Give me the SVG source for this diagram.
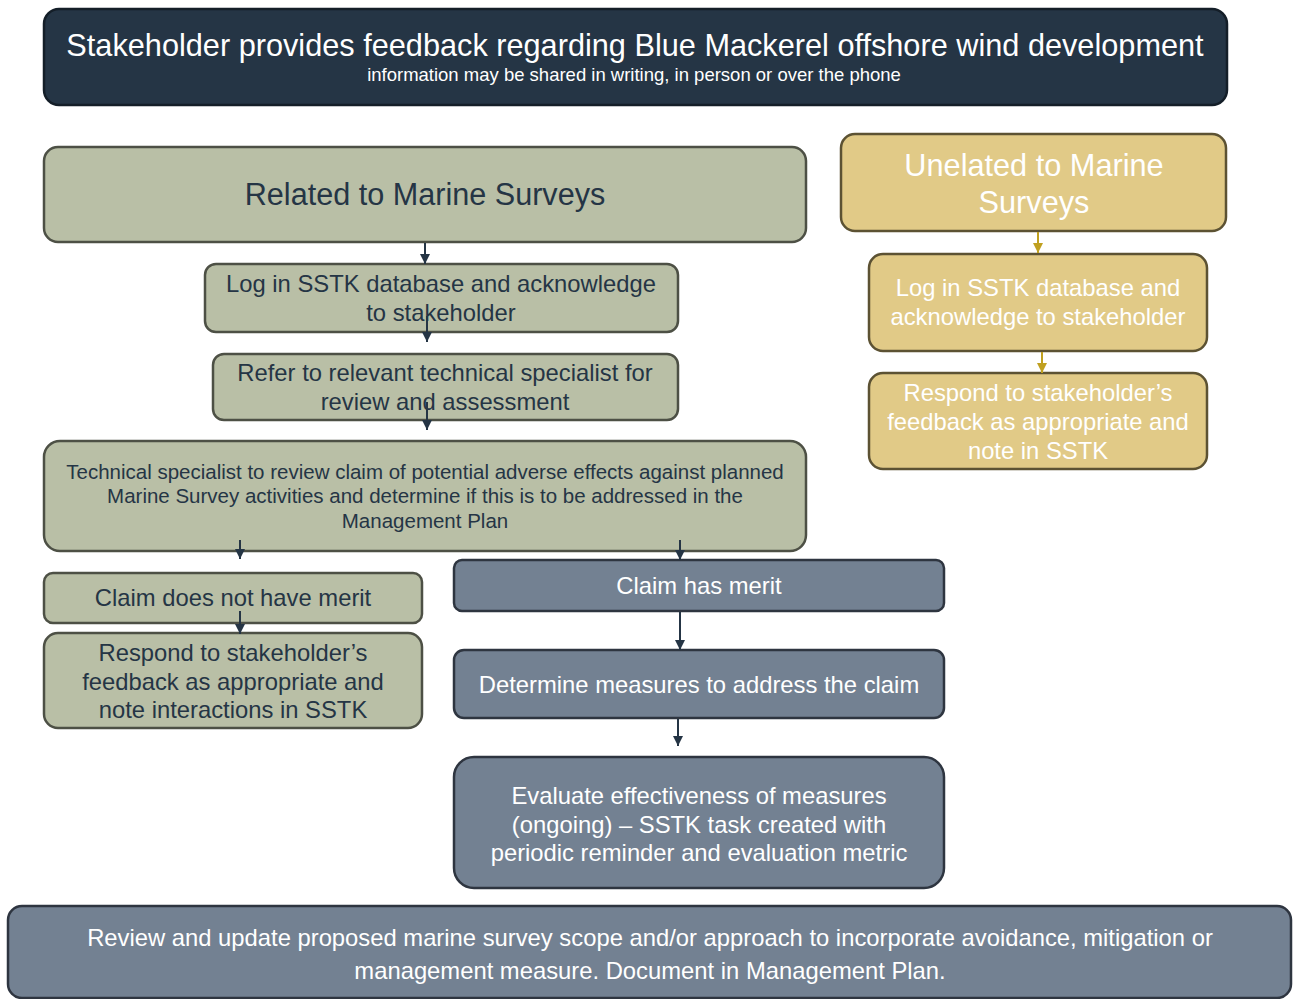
<svg xmlns="http://www.w3.org/2000/svg" width="1293" height="999" viewBox="0 0 1293 999">
<defs>
<style>
text{font-family:"Liberation Sans",Arial,sans-serif;text-anchor:middle}
.navy{fill:#253545;stroke:#141e28;stroke-width:2.5}
.sage{fill:#b9bfa6;stroke:#4d5045;stroke-width:2.5}
.gold{fill:#e1ca87;stroke:#5c5233;stroke-width:2.5}
.slate{fill:#738192;stroke:#2e3540;stroke-width:2.5}
.tw{fill:#ffffff}
.td{fill:#253545}
.m{font-size:23.8px}
.c{stroke:#253545;stroke-width:2;fill:none;marker-end:url(#ah)}
.cg{stroke:#c0a020;stroke-width:2;fill:none;marker-end:url(#ahg)}
</style>
<marker id="ah" viewBox="0 0 10 10" refX="10" refY="5" markerWidth="5" markerHeight="5" orient="auto" markerUnits="strokeWidth"><path d="M0,0 L10,5 L0,10 z" fill="#253545"/></marker>
<marker id="ahg" viewBox="0 0 10 10" refX="10" refY="5" markerWidth="5" markerHeight="5" orient="auto" markerUnits="strokeWidth"><path d="M0,0 L10,5 L0,10 z" fill="#c0a020"/></marker>
</defs>
<rect width="1293" height="999" fill="#ffffff"/>

<g id="title">
<rect class="navy" x="44" y="9" width="1183" height="96" rx="15"/>
<text class="tw" x="635" y="56" font-size="30.7">Stakeholder provides feedback regarding Blue Mackerel offshore wind development</text>
<text class="tw" x="634" y="81" font-size="18.5">information may be shared in writing,  in person or over the phone</text>
</g>

<g id="related">
<rect class="sage" x="44" y="147" width="762" height="95" rx="14"/>
<text class="td" x="425" y="205" font-size="30.6">Related to Marine Surveys</text>
</g>

<g id="unrelated">
<rect class="gold" x="841" y="134" width="385" height="97" rx="14"/>
<text class="tw" x="1034" y="176" font-size="30.7">Unelated to Marine</text>
<text class="tw" x="1034" y="213" font-size="30.7">Surveys</text>
</g>

<g id="log-gold">
<rect class="gold" x="869" y="254" width="338" height="97" rx="14"/>
<text class="tw m" x="1038" y="296">Log in SSTK database and</text>
<text class="tw m" x="1038" y="325">acknowledge to stakeholder</text>
</g>

<g id="respond-gold">
<rect class="gold" x="869" y="373" width="338" height="96" rx="14"/>
<text class="tw m" x="1038" y="401">Respond to stakeholder’s</text>
<text class="tw m" x="1038" y="430">feedback as appropriate and</text>
<text class="tw m" x="1038" y="459">note in SSTK</text>
</g>

<g id="log-sage">
<rect class="sage" x="205" y="264" width="473" height="68" rx="11"/>
<text class="td m" x="441" y="292">Log in SSTK database and acknowledge</text>
<text class="td m" x="441" y="321">to stakeholder</text>
</g>

<g id="refer">
<rect class="sage" x="213" y="354" width="465" height="66" rx="11"/>
<text class="td m" x="445" y="381">Refer to relevant technical specialist for</text>
<text class="td m" x="445" y="410">review and assessment</text>
</g>

<g id="technical">
<rect class="sage" x="44" y="441" width="762" height="110" rx="16"/>
<text class="td" x="425" y="479" font-size="20.5">Technical specialist to review claim of potential adverse effects against planned</text>
<text class="td" x="425" y="503" font-size="20.5">Marine Survey activities and determine if this is to be addressed in the</text>
<text class="td" x="425" y="528" font-size="20.5">Management Plan</text>
</g>

<g id="no-merit">
<rect class="sage" x="44" y="573" width="378" height="50" rx="9"/>
<text class="td m" x="233" y="606">Claim does not have merit</text>
</g>

<g id="respond-sage">
<rect class="sage" x="44" y="633" width="378" height="95" rx="14"/>
<text class="td m" x="233" y="661">Respond to stakeholder’s</text>
<text class="td m" x="233" y="690">feedback as appropriate and</text>
<text class="td m" x="233" y="718">note interactions in SSTK</text>
</g>

<g id="has-merit">
<rect class="slate" x="454" y="560" width="490" height="51" rx="8"/>
<text class="tw m" x="699" y="594">Claim has merit</text>
</g>

<g id="determine">
<rect class="slate" x="454" y="650" width="490" height="68" rx="10"/>
<text class="tw m" x="699" y="693">Determine measures to address the claim</text>
</g>

<g id="evaluate">
<rect class="slate" x="454" y="757" width="490" height="131" rx="20"/>
<text class="tw m" x="699" y="804">Evaluate effectiveness of measures</text>
<text class="tw m" x="699" y="833">(ongoing) – SSTK task created with</text>
<text class="tw m" x="699" y="861">periodic reminder and evaluation metric</text>
</g>

<g id="review">
<rect class="slate" x="8" y="906" width="1283" height="92" rx="14"/>
<text class="tw m" x="650" y="946">Review and update proposed marine survey scope and/or approach to incorporate avoidance, mitigation or</text>
<text class="tw m" x="650" y="979">management measure. Document in Management Plan.</text>
</g>

<g id="connectors">
<line class="c" x1="425" y1="243" x2="425" y2="264"/>
<line class="c" x1="427" y1="316" x2="427" y2="342"/>
<line class="c" x1="427" y1="402" x2="427" y2="430"/>
<line class="cg" x1="1038" y1="232" x2="1038" y2="253"/>
<line class="cg" x1="1042" y1="352" x2="1042" y2="373"/>
<line class="c" x1="240" y1="540" x2="240" y2="559"/>
<line class="c" x1="680" y1="540" x2="680" y2="560"/>
<line class="c" x1="240" y1="611" x2="240" y2="634"/>
<line class="c" x1="680" y1="612" x2="680" y2="650"/>
<line class="c" x1="678" y1="719" x2="678" y2="746"/>
</g>
</svg>
